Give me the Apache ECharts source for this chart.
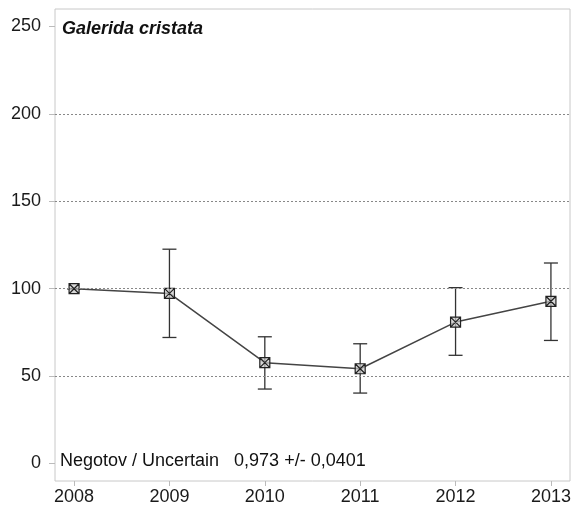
<!DOCTYPE html>
<html><head><meta charset="utf-8">
<script src="https://cdn.jsdelivr.net/npm/echarts@6/dist/echarts.min.js"></script>
<style>html,body{margin:0;padding:0;background:#fff}#c{width:574px;height:510px}</style>
</head><body><div id="c"></div>
<script>
const years = [2008, 2009, 2010, 2011, 2012, 2013];
const index = [100, 97.3, 57.7, 54.2, 80.9, 92.8];
const upper = [100, 122.6, 72.5, 68.5, 100.6, 114.7];
const lower = [100, 72.1, 42.6, 40.3, 61.9, 70.4];
const yTicks = [0, 50, 100, 150, 200, 250];
const gridValues = [50, 100, 150, 200];
const speciesName = 'Galerida cristata';
const trendText = 'Negotov / Uncertain   0,973 +/- 0,0401';

const font = 'Liberation Sans, Arial, sans-serif';
const chart = echarts.init(document.getElementById('c'));
chart.setOption({
  animation: false,
  grid: { left: 55, right: 4, top: 9, bottom: 29, show: true, borderColor: '#c8c8c8', borderWidth: 1 },
  xAxis: {
    type: 'value', min: 2007.8, max: 2013.2,
    axisLine: { show: false, onZero: false },
    splitLine: { show: false },
    axisTick: { show: true, length: 5, inside: false, customValues: years, lineStyle: { color: '#bbb' } },
    axisLabel: { customValues: years, margin: 7, fontSize: 18, color: '#1a1a1a', fontFamily: font,
      formatter: v => String(v) }
  },
  yAxis: {
    type: 'value', min: -10, max: 260,
    axisLine: { show: false },
    splitLine: { show: false },
    axisTick: { show: true, length: 6, customValues: yTicks, lineStyle: { color: '#bbb' } },
    axisLabel: { customValues: yTicks, margin: 14, fontSize: 18, color: '#1a1a1a', fontFamily: font }
  },
  graphic: [
    { type: 'text', left: 62, top: 20, style: { text: speciesName, font: 'italic bold 18px ' + font, fill: '#111' } },
    { type: 'text', left: 60, top: 452, style: { text: trendText, font: '18px ' + font, fill: '#111' } }
  ],
  series: [
    {
      type: 'line', silent: true, data: [],
      markLine: {
        silent: true, symbol: 'none', label: { show: false },
        lineStyle: { type: [2, 2], color: '#888', width: 1 },
        data: gridValues.map(v => ({ yAxis: v }))
      }
    },
    {
      type: 'custom', silent: true,
      data: years.map((y, i) => [y, lower[i], upper[i]]),
      renderItem: function (params, api) {
        const x = api.value(0);
        const lo = api.coord([x, api.value(1)]);
        const hi = api.coord([x, api.value(2)]);
        const hw = 7;
        const st = { stroke: '#333', lineWidth: 1.3 };
        return { type: 'group', children: [
          { type: 'line', shape: { x1: lo[0], y1: lo[1], x2: hi[0], y2: hi[1] }, style: st },
          { type: 'line', shape: { x1: lo[0] - hw, y1: lo[1], x2: lo[0] + hw, y2: lo[1] }, style: st },
          { type: 'line', shape: { x1: hi[0] - hw, y1: hi[1], x2: hi[0] + hw, y2: hi[1] }, style: st }
        ]};
      },
      z: 3
    },
    {
      type: 'line', silent: true,
      data: years.map((y, i) => [y, index[i]]),
      symbol: 'path://M0,0L10,0L10,10L0,10ZM0,0L10,10M10,0L0,10',
      symbolSize: 10, showSymbol: true,
      lineStyle: { color: '#444', width: 1.5 },
      itemStyle: { color: 'rgba(200,200,200,0.7)', borderColor: '#222', borderWidth: 1.2 },
      z: 4
    }
  ]
});
</script></body></html>
